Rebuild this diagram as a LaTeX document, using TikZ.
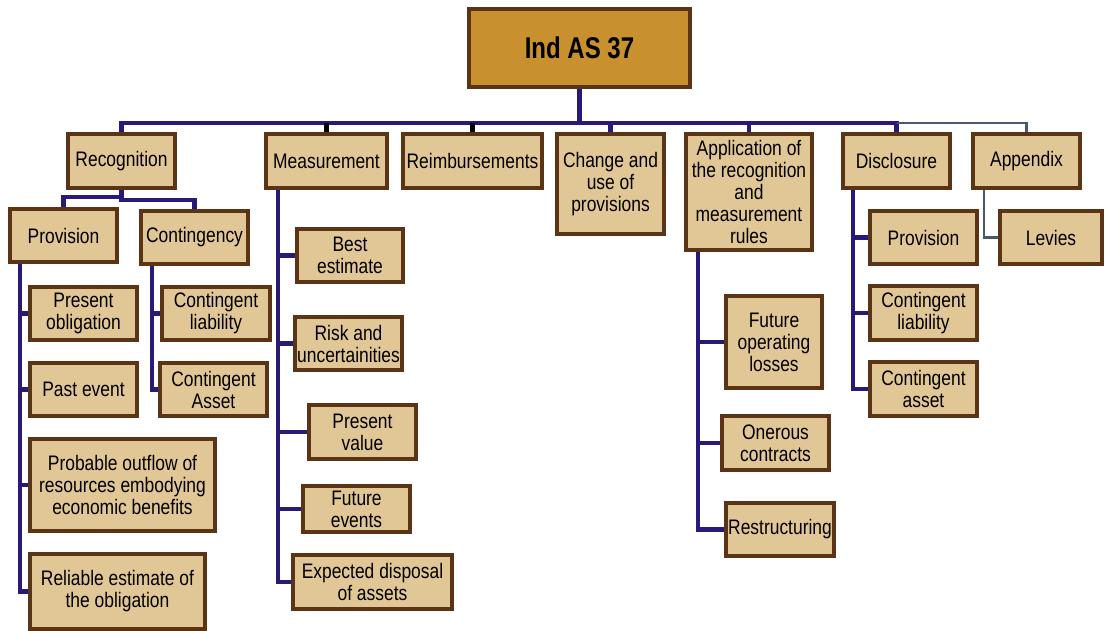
\documentclass[tikz,border=0pt]{standalone}
\usepackage{fontspec}
\setmainfont{Liberation Sans}
\newfontfamily\narrowfont{Liberation Sans}[FakeStretch=0.83]
\newfontfamily\rootfont{Liberation Sans}[FakeStretch=0.8]
\usetikzlibrary{backgrounds}
\definecolor{boxfill}{HTML}{E2C796}
\definecolor{boxdraw}{HTML}{5A3414}
\definecolor{rootfill}{HTML}{C8902F}
\definecolor{busblue}{HTML}{2A1A78}
\definecolor{busgrey}{HTML}{4A5868}
\tikzset{
  box/.style={draw=boxdraw, fill=boxfill, line width=4pt, inner sep=0pt, align=center,
    font=\narrowfont\fontsize{21}{22}\selectfont},
  rootbox/.style={box, fill=rootfill, font=\rootfont\fontsize{30}{32}\selectfont\bfseries},
  bus/.style={draw=busblue, line width=4.5pt},
  stub/.style={draw=black, line width=4.5pt},
  greyline/.style={draw=busgrey, line width=2.5pt},
}
% #1 name, #2 x1, #3 y1, #4 x2, #5 y2, #6 style, #7 text
\newcommand\mkbox[7]{%
  \node[#6, minimum width={(#4-#2-4)*1pt}, minimum height={(#5-#3-4)*1pt}]
    (#1) at ({(#2+#4)/2},{(#3+#5)/2}) {#7};}
\begin{document}
\begin{tikzpicture}[x=1pt,y=-1pt]
\useasboundingbox (0,0) rectangle (1105,631);
% boxes
\mkbox{root}{467}{7}{692}{89}{rootbox}{Ind AS 37}
\mkbox{rec}{66}{132}{177}{190}{box}{Recognition}
\mkbox{meas}{264}{132}{389}{190}{box}{Measurement}
\mkbox{reim}{401}{132}{544}{190}{box}{Reimbursements}
\mkbox{chg}{555}{132}{666}{236}{box}{Change and\\use of\\provisions}
\mkbox{app}{684}{132}{814}{252}{box}{Application of\\the recognition\\and\\measurement\\rules}
\mkbox{disc}{841}{132}{952}{190}{box}{Disclosure}
\mkbox{apx}{971}{132}{1082}{190}{box}{Appendix}
\mkbox{prov}{8}{207}{119}{264}{box}{Provision}
\mkbox{cont}{139}{209}{250}{266}{box}{Contingency}
\mkbox{pobl}{28}{285}{139}{342}{box}{Present\\obligation}
\mkbox{past}{28}{361}{139}{418}{box}{Past event}
\mkbox{prob}{28}{437}{217}{533}{box}{Probable outflow of\\resources embodying\\economic benefits}
\mkbox{reli}{28}{552}{207}{631}{box}{Reliable estimate of\\the obligation}
\mkbox{cliab}{160}{285}{272}{342}{box}{Contingent\\liability}
\mkbox{casset}{158}{361}{269}{418}{box}{Contingent\\Asset}
\mkbox{best}{295}{227}{405}{284}{box}{Best\\estimate}
\mkbox{risk}{293}{315}{404}{372}{box}{Risk and\\uncertainities}
\mkbox{pval}{307}{403}{418}{461}{box}{Present\\value}
\mkbox{fev}{301}{484}{412}{534}{box}{Future\\events}
\mkbox{expd}{291}{553}{454}{611}{box}{Expected disposal\\of assets}
\mkbox{fol}{724}{294}{824}{390}{box}{Future\\operating\\losses}
\mkbox{oner}{720}{414}{831}{472}{box}{Onerous\\contracts}
\mkbox{restr}{724}{501}{836}{558}{box}{Restructuring}
\mkbox{dprov}{868}{209}{979}{266}{box}{Provision}
\mkbox{dcl}{868}{284}{979}{342}{box}{Contingent\\liability}
\mkbox{dca}{868}{360}{979}{418}{box}{Contingent\\asset}
\mkbox{lev}{998}{209}{1104}{266}{box}{Levies}
% connectors
\begin{scope}[on background layer]
\draw[bus] (root.south) -- ++(0,34) coordinate (j);
\draw[bus] (j) -| (rec.north);
\draw[bus] (j) -| (disc.north);
\draw[greyline] (disc.north |- j) -| (apx.north);
\draw[stub] (meas.north) -- (meas.north |- j);
\draw[stub] (reim.north) -- (reim.north |- j);
\draw[bus] (chg.north) -- (chg.north |- j);
\draw[bus] (app.north) -- (app.north |- j);
% recognition
\draw[bus] (rec.south) -- ++(0,7) -| (prov.north);
\draw[bus] (rec.south) -- ++(0,10) -| (cont.north);
\foreach \t in {pobl,past,prob,reli}
  \draw[bus] ([xshift=12pt]prov.south west) |- (\t.west);
\foreach \t in {cliab,casset}
  \draw[bus] ([xshift=13pt]cont.south west) |- (\t.west);
% measurement
\foreach \t in {best,risk,pval,fev,expd}
  \draw[bus] ([xshift=14pt]meas.south west) |- (\t.west);
% application
\foreach \t in {fol,oner,restr}
  \draw[bus] ([xshift=14pt]app.south west) |- (\t.west);
% disclosure
\foreach \t in {dprov,dcl,dca}
  \draw[bus] ([xshift=12pt]disc.south west) |- (\t.west);
% appendix
\draw[greyline] ([xshift=13pt]apx.south west) |- (lev.west);
\end{scope}
\end{tikzpicture}
\end{document}
